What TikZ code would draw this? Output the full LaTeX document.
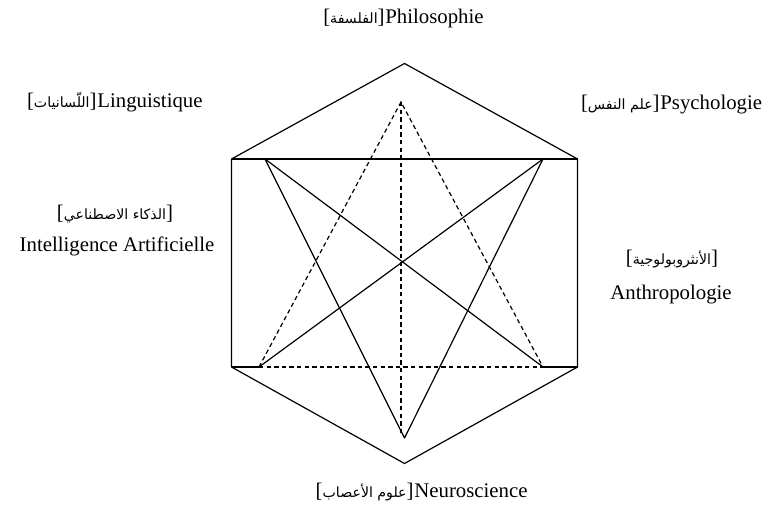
\documentclass[tikz,border=0pt]{standalone}
\usepackage{fontspec}
\setmainfont{Liberation Serif}
\newfontfamily\arabicfont[Script=Arabic,Scale=0.68]{DejaVu Sans}
\TeXXeTstate=1
\begin{document}
\begin{tikzpicture}[x=0.5pt,y=-0.5pt,
  edge/.style={line width=0.6pt,line join=round},
  hidden/.style={line width=0.6pt,dash pattern=on 2.2pt off 1.6pt},
  lat/.style={inner sep=0pt,font=\fontsize{10.4}{12}\selectfont},
  arb/.style={inner sep=0pt,font=\fontsize{10.4}{12}\selectfont}]
\useasboundingbox (0,0) rectangle (763,506);
% hexagon
\coordinate (T) at (404.5,63.5);
\coordinate (UR) at (577.5,159);
\coordinate (LR) at (577.5,367);
\coordinate (B) at (404.5,463.5);
\coordinate (LL) at (231.5,367);
\coordinate (UL) at (231.5,159);
% solid triangle
\coordinate (S1) at (265,159);
\coordinate (S2) at (543,159);
\coordinate (S3) at (404.5,438);
% dashed triangle
\coordinate (D1) at (401,102);
\coordinate (D2) at (259,367);
\coordinate (D3) at (543,367);
\coordinate (V) at (401,436);
\draw[edge] (T) -- (UR) -- (LR) -- (B) -- (LL) -- (UL) -- cycle;
\draw[edge] (UL) -- (UR);
\draw[edge] (LL) -- (D2);
\draw[edge] (D3) -- (LR);
\draw[hidden] (D2) -- (D3);
\draw[edge] (S1) -- (S3) -- (S2);
\draw[edge] (S1) -- (D3);
\draw[edge] (S2) -- (D2);
\draw[hidden] (D2) -- (D1) -- (D3);
\draw[hidden] (D1) -- (V);
% labels
\node[lat,anchor=base west] (phil) at (385,24) {Philosophie};
\node[arb,anchor=base east] (phila) at (phil.base west) {[{\arabicfont\beginR الفلسفة\endR}]};
\node[lat,anchor=base west] (ling) at (97,108) {Linguistique};
\node[arb,anchor=base east] (linga) at (ling.base west) {[{\arabicfont\beginR اللّسانيات\endR}]};
\node[lat,anchor=base west] (psy) at (660,110) {Psychologie};
\node[arb,anchor=base east] (psya) at (psy.base west) {[{\arabicfont\beginR علم النفس\endR}]};
\node[arb,anchor=base] (aia) at (115,220) {[{\arabicfont\beginR الذكاء الاصطناعي\endR}]};
\node[lat,anchor=base] (ai) at (117,252) {Intelligence Artificielle};
\node[arb,anchor=base] (anta) at (672,265) {[{\arabicfont\beginR الأنثروبولوجية\endR}]};
\node[lat,anchor=base] (ant) at (671,300) {Anthropologie};
\node[lat,anchor=base west] (neu) at (414,497) {Neuroscience};
\node[arb,anchor=base east] (neua) at (neu.base west) {[{\arabicfont\beginR علوم الأعصاب\endR}]};
\end{tikzpicture}
\end{document}
